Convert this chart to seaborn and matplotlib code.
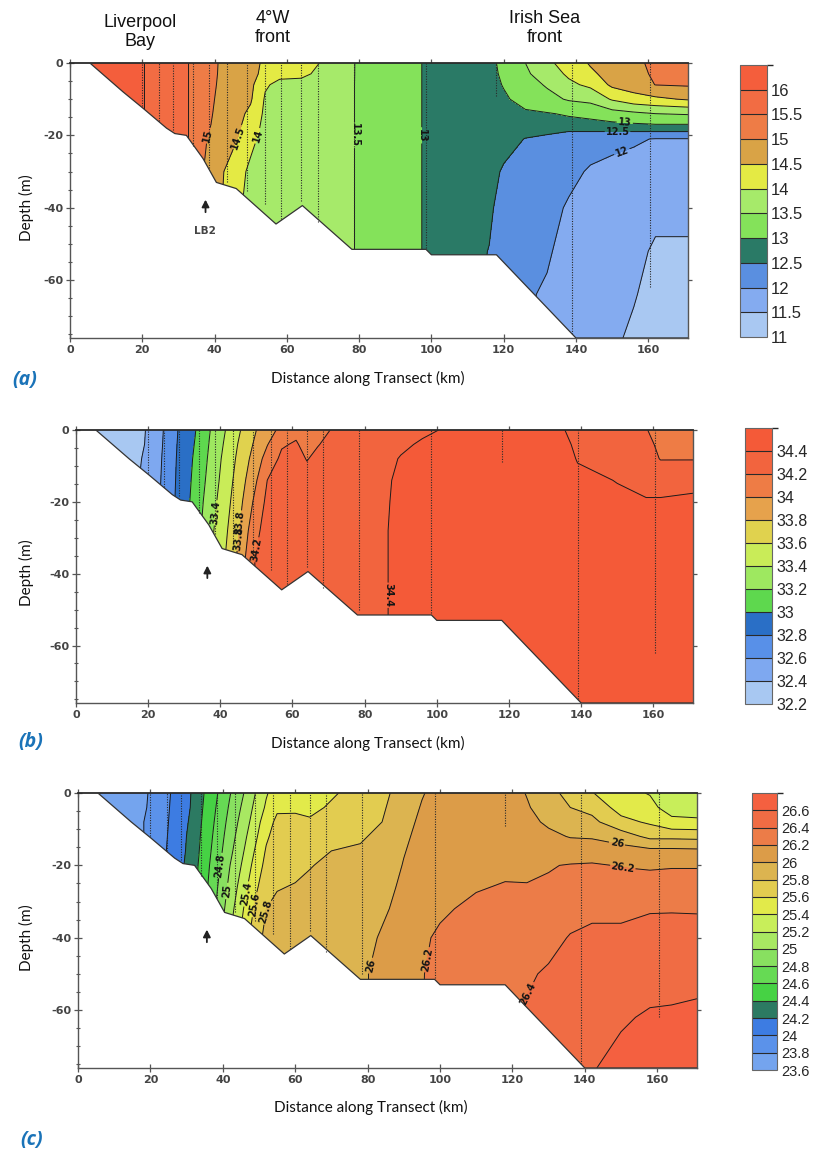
import numpy as np
import matplotlib
matplotlib.use("Agg")
import matplotlib.pyplot as plt
import seaborn as sns
from matplotlib.colors import ListedColormap, BoundaryNorm
from matplotlib.cm import ScalarMappable
from matplotlib.patches import Polygon
from matplotlib.ticker import MultipleLocator, NullLocator

# ---------------- data ----------------
# seabed profile along the transect (km, depth m)
seabed_km = [5.5, 14.7, 20.2, 26.7, 29.0, 32.2, 36.8, 40.5, 46.0, 57.0, 64.3, 78.0, 98.5, 100.0, 118.0, 140.0, 171.0]
seabed_m = [0.0, 8.0, 12.5, 18.0, 19.5, 20.0, 26.4, 33.0, 34.7, 44.5, 39.4, 51.5, 51.5, 53.0, 53.0, 76.0, 76.0]

# CTD stations (dotted casts)
station_km = [20, 24.5, 28.5, 34, 38.5, 43.5, 49, 54, 58.5, 64, 68.5, 78.5, 98.5, 118, 139, 160.5]
station_m = [12, 16, 18.5, 23, 29, 33, 35.5, 39, 43, 38, 44, 50, 51, 9, 75, 62]

# (a) temperature: profile columns at temp_km, values at temp_depth
temp_km = [0, 10, 20, 28, 34, 38, 42, 46, 50, 54, 58, 64, 70, 79, 88, 97, 99, 108, 116, 120, 126, 132, 138, 144, 150, 156, 162, 171]
temp_depth = [0, 3, 6, 10, 14, 17, 19, 21, 30, 40, 52, 64, 76]
temp_profiles = [
    [16.4, 16.4, 16.4, 16.4, 16.4, 16.4, 16.4, 16.4, 16.4, 16.4, 16.4, 16.4, 16.4],
    [16.3, 16.3, 16.3, 16.3, 16.3, 16.3, 16.3, 16.3, 16.3, 16.3, 16.3, 16.3, 16.3],
    [16.02, 16.02, 16.02, 16.02, 16.02, 16.02, 16.02, 16.02, 16.02, 16.02, 16.02, 16.02, 16.02],
    [15.7, 15.7, 15.7, 15.7, 15.7, 15.7, 15.7, 15.7, 15.7, 15.7, 15.7, 15.7, 15.7],
    [15.45, 15.45, 15.45, 15.45, 15.45, 15.45, 15.45, 15.45, 15.4, 15.4, 15.4, 15.4, 15.4],
    [15.2, 15.19, 15.17, 15.13, 15.1, 15.06, 15.03, 14.99, 14.85, 14.85, 14.85, 14.85, 14.85],
    [14.93, 14.92, 14.9, 14.87, 14.83, 14.82, 14.79, 14.75, 14.55, 14.5, 14.5, 14.5, 14.5],
    [14.8, 14.78, 14.75, 14.7, 14.65, 14.62, 14.58, 14.53, 14.2, 14.1, 14.1, 14.1, 14.1],
    [14.65, 14.63, 14.62, 14.55, 14.4, 14.3, 14.2, 14.12, 13.9, 13.85, 13.85, 13.85, 13.85],
    [14.42, 14.38, 14.05, 13.95, 13.9, 13.85, 13.85, 13.83, 13.8, 13.8, 13.8, 13.8, 13.8],
    [14.3, 14.1, 13.9, 13.85, 13.85, 13.85, 13.85, 13.85, 13.85, 13.85, 13.85, 13.85, 13.85],
    [14.25, 14.08, 13.88, 13.85, 13.85, 13.85, 13.85, 13.85, 13.85, 13.85, 13.85, 13.85, 13.85],
    [13.95, 13.9, 13.82, 13.82, 13.82, 13.82, 13.82, 13.82, 13.82, 13.82, 13.82, 13.82, 13.82],
    [13.49, 13.49, 13.49, 13.49, 13.49, 13.49, 13.49, 13.49, 13.49, 13.49, 13.49, 13.49, 13.49],
    [13.25, 13.25, 13.25, 13.25, 13.25, 13.25, 13.25, 13.25, 13.25, 13.25, 13.25, 13.25, 13.25],
    [13.02, 13.02, 13.02, 13.02, 13.02, 13.02, 13.02, 13.02, 13.02, 13.02, 13.02, 13.02, 13.02],
    [12.9, 12.9, 12.9, 12.9, 12.9, 12.9, 12.9, 12.9, 12.9, 12.9, 12.9, 12.9, 12.9],
    [12.85, 12.85, 12.85, 12.85, 12.85, 12.85, 12.85, 12.85, 12.85, 12.82, 12.8, 12.8, 12.8],
    [12.9, 12.9, 12.88, 12.85, 12.8, 12.78, 12.75, 12.72, 12.7, 12.62, 12.48, 12.4, 12.4],
    [13.1, 13.06, 13.02, 12.95, 12.85, 12.8, 12.76, 12.72, 12.43, 12.22, 12.12, 12.1, 12.1],
    [13.5, 13.42, 13.3, 13.12, 12.95, 12.85, 12.65, 12.48, 12.3, 12.18, 12.1, 12.05, 12.05],
    [13.9, 13.75, 13.55, 13.35, 12.97, 12.85, 12.6, 12.35, 12.25, 12.15, 12.05, 11.95, 11.95],
    [14.2, 14.08, 13.9, 13.55, 13.05, 12.85, 12.49, 12.3, 12.12, 11.95, 11.85, 11.8, 11.8],
    [14.55, 14.4, 14.1, 13.65, 13.1, 12.9, 12.49, 12.2, 11.95, 11.85, 11.75, 11.7, 11.7],
    [14.75, 14.7, 14.6, 14.05, 13.3, 12.9, 12.49, 12.1, 11.9, 11.8, 11.65, 11.6, 11.55],
    [14.9, 14.85, 14.75, 14.3, 13.4, 12.95, 12.49, 12.05, 11.85, 11.7, 11.6, 11.52, 11.45],
    [15.1, 15.07, 15.01, 14.4, 13.5, 12.99, 12.49, 11.98, 11.8, 11.6, 11.45, 11.4, 11.35],
    [15.3, 15.2, 15.05, 14.55, 13.55, 12.99, 12.49, 11.98, 11.8, 11.6, 11.45, 11.4, 11.35],
]
temp_levels = [11.0, 11.5, 12.0, 12.5, 13.0, 13.5, 14.0, 14.5, 15.0, 15.5, 16.0, 16.5]
temp_ticks = [11, 11.5, 12, 12.5, 13, 13.5, 14, 14.5, 15, 15.5, 16]
temp_colors = ["#a9c8f2", "#84abf0", "#5a8fe0", "#2a7a66", "#84e25a", "#a6ea6a",
               "#e4ea44", "#d9a346", "#ee7c46", "#f26c43", "#f45e3c"]

# (b) salinity
sal_km = [0, 10, 19, 24, 28, 33, 37, 41, 45, 49, 53, 57, 61, 64, 67, 71, 78, 86, 90, 96, 102, 120, 135, 139, 150, 158, 162, 171]
sal_depth = [0, 4, 8, 14, 20, 28, 36, 46, 60, 76]
sal_profiles = [
    [32.25, 32.25, 32.25, 32.25, 32.25, 32.25, 32.25, 32.25, 32.25, 32.25],
    [32.3, 32.3, 32.3, 32.3, 32.3, 32.3, 32.3, 32.3, 32.3, 32.3],
    [32.39, 32.4, 32.41, 32.42, 32.43, 32.44, 32.45, 32.45, 32.45, 32.45],
    [32.59, 32.6, 32.61, 32.62, 32.63, 32.64, 32.65, 32.65, 32.65, 32.65],
    [32.79, 32.8, 32.81, 32.82, 32.83, 32.84, 32.85, 32.85, 32.85, 32.85],
    [32.99, 33.01, 33.03, 33.05, 33.07, 33.1, 33.1, 33.1, 33.1, 33.1],
    [33.19, 33.21, 33.23, 33.26, 33.3, 33.34, 33.36, 33.36, 33.36, 33.36],
    [33.38, 33.41, 33.44, 33.47, 33.5, 33.54, 33.58, 33.58, 33.58, 33.58],
    [33.57, 33.61, 33.64, 33.68, 33.72, 33.78, 33.84, 33.84, 33.84, 33.84],
    [33.76, 33.8, 33.85, 33.92, 34.0, 34.1, 34.18, 34.18, 34.18, 34.18],
    [33.92, 33.99, 34.08, 34.2, 34.25, 34.3, 34.32, 34.32, 34.32, 34.32],
    [34.05, 34.18, 34.24, 34.28, 34.3, 34.32, 34.33, 34.33, 34.33, 34.33],
    [34.15, 34.22, 34.27, 34.3, 34.32, 34.33, 34.34, 34.34, 34.34, 34.34],
    [34.08, 34.13, 34.19, 34.28, 34.32, 34.34, 34.35, 34.35, 34.35, 34.35],
    [34.14, 34.19, 34.25, 34.3, 34.33, 34.35, 34.35, 34.35, 34.35, 34.35],
    [34.21, 34.26, 34.3, 34.32, 34.34, 34.35, 34.36, 34.36, 34.36, 34.36],
    [34.3, 34.32, 34.34, 34.35, 34.36, 34.37, 34.38, 34.38, 34.38, 34.38],
    [34.32, 34.34, 34.36, 34.37, 34.38, 34.39, 34.39, 34.39, 34.39, 34.39],
    [34.34, 34.37, 34.41, 34.45, 34.46, 34.47, 34.47, 34.47, 34.47, 34.47],
    [34.37, 34.42, 34.45, 34.47, 34.48, 34.48, 34.48, 34.48, 34.48, 34.48],
    [34.41, 34.45, 34.47, 34.48, 34.48, 34.48, 34.48, 34.48, 34.48, 34.48],
    [34.48, 34.48, 34.48, 34.48, 34.48, 34.48, 34.48, 34.48, 34.48, 34.48],
    [34.41, 34.45, 34.47, 34.48, 34.48, 34.48, 34.48, 34.48, 34.48, 34.48],
    [34.33, 34.36, 34.39, 34.44, 34.47, 34.48, 34.48, 34.48, 34.48, 34.48],
    [34.28, 34.31, 34.34, 34.395, 34.43, 34.47, 34.48, 34.48, 34.48, 34.48],
    [34.21, 34.25, 34.3, 34.36, 34.41, 34.46, 34.48, 34.48, 34.48, 34.48],
    [34.12, 34.16, 34.19, 34.36, 34.41, 34.46, 34.48, 34.48, 34.48, 34.48],
    [34.12, 34.16, 34.19, 34.37, 34.42, 34.47, 34.48, 34.48, 34.48, 34.48],
]
sal_levels = [32.2, 32.4, 32.6, 32.8, 33.0, 33.2, 33.4, 33.6, 33.8, 34.0, 34.2, 34.4, 34.6]
sal_ticks = [32.2, 32.4, 32.6, 32.8, 33.0, 33.2, 33.4, 33.6, 33.8, 34.0, 34.2, 34.4]
sal_colors = ["#a8c8f2", "#7ea8f0", "#5890e8", "#2a6fc6", "#5ed84e", "#9ee860",
              "#c9ec58", "#e0d24e", "#e6a24c", "#ee7c45", "#f2643e", "#f45a38"]

# (c) density (sigma-t)
dens_km = [0, 10, 19, 25, 31, 35, 39, 42, 46, 49, 52, 55, 60, 64, 70, 78, 84, 90, 95, 100, 110, 118, 124, 130, 136, 142, 150, 158, 164, 171]
dens_depth = [0, 4, 8, 12, 16, 20, 26, 32, 40, 50, 62, 76]
dens_profiles = [
    [23.65, 23.65, 23.65, 23.65, 23.65, 23.65, 23.65, 23.65, 23.65, 23.65, 23.65, 23.65],
    [23.7, 23.7, 23.7, 23.7, 23.7, 23.7, 23.7, 23.7, 23.7, 23.7, 23.7, 23.7],
    [23.79, 23.8, 23.81, 23.81, 23.82, 23.83, 23.84, 23.85, 23.85, 23.85, 23.85, 23.85],
    [23.98, 23.99, 24.0, 24.01, 24.02, 24.03, 24.05, 24.05, 24.05, 24.05, 24.05, 24.05],
    [24.19, 24.2, 24.22, 24.24, 24.25, 24.27, 24.29, 24.3, 24.3, 24.3, 24.3, 24.3],
    [24.41, 24.43, 24.45, 24.47, 24.49, 24.51, 24.54, 24.57, 24.6, 24.6, 24.6, 24.6],
    [24.62, 24.65, 24.68, 24.71, 24.74, 24.78, 24.83, 24.88, 24.92, 24.92, 24.92, 24.92],
    [24.79, 24.83, 24.87, 24.91, 24.95, 25.0, 25.06, 25.12, 25.2, 25.2, 25.2, 25.2],
    [25.01, 25.06, 25.11, 25.16, 25.21, 25.26, 25.34, 25.42, 25.5, 25.5, 25.5, 25.5],
    [25.2, 25.25, 25.3, 25.36, 25.42, 25.48, 25.56, 25.64, 25.72, 25.72, 25.72, 25.72],
    [25.38, 25.43, 25.52, 25.57, 25.62, 25.66, 25.72, 25.8, 25.85, 25.85, 25.85, 25.85],
    [25.5, 25.57, 25.64, 25.68, 25.71, 25.74, 25.79, 25.84, 25.86, 25.86, 25.86, 25.86],
    [25.5, 25.58, 25.63, 25.68, 25.72, 25.76, 25.81, 25.85, 25.87, 25.87, 25.87, 25.87],
    [25.52, 25.56, 25.62, 25.7, 25.75, 25.79, 25.84, 25.86, 25.88, 25.88, 25.88, 25.88],
    [25.58, 25.62, 25.68, 25.74, 25.8, 25.84, 25.87, 25.88, 25.88, 25.88, 25.88, 25.88],
    [25.66, 25.7, 25.74, 25.78, 25.82, 25.86, 25.88, 25.9, 25.93, 25.97, 25.97, 25.97],
    [25.74, 25.77, 25.8, 25.84, 25.87, 25.89, 25.93, 25.97, 26.02, 26.05, 26.05, 26.05],
    [25.9, 25.93, 25.95, 25.97, 25.99, 26.01, 26.04, 26.06, 26.08, 26.1, 26.1, 26.1],
    [25.99, 26.01, 26.03, 26.05, 26.07, 26.09, 26.12, 26.15, 26.18, 26.19, 26.19, 26.19],
    [26.05, 26.07, 26.09, 26.11, 26.13, 26.14, 26.16, 26.18, 26.22, 26.26, 26.3, 26.3],
    [26.08, 26.1, 26.12, 26.14, 26.15, 26.16, 26.19, 26.23, 26.28, 26.33, 26.36, 26.36],
    [26.1, 26.1, 26.11, 26.13, 26.15, 26.17, 26.21, 26.26, 26.31, 26.35, 26.38, 26.38],
    [25.99, 26.02, 26.05, 26.08, 26.12, 26.16, 26.21, 26.26, 26.32, 26.38, 26.42, 26.42],
    [25.85, 25.9, 25.97, 26.04, 26.1, 26.19, 26.22, 26.28, 26.35, 26.42, 26.45, 26.45],
    [25.75, 25.8, 25.9, 25.99, 26.1, 26.21, 26.28, 26.34, 26.41, 26.47, 26.52, 26.55],
    [25.61, 25.74, 25.85, 25.98, 26.1, 26.22, 26.3, 26.37, 26.43, 26.5, 26.56, 26.59],
    [25.45, 25.52, 25.66, 25.9, 26.08, 26.19, 26.3, 26.37, 26.43, 26.52, 26.58, 26.65],
    [25.39, 25.45, 25.57, 25.75, 26.05, 26.18, 26.27, 26.39, 26.45, 26.53, 26.62, 26.66],
    [25.28, 25.32, 25.45, 25.75, 26.05, 26.19, 26.26, 26.39, 26.46, 26.55, 26.62, 26.66],
    [25.26, 25.3, 25.44, 25.74, 26.04, 26.19, 26.26, 26.385, 26.47, 26.56, 26.63, 26.67],
]
dens_levels = [23.6, 23.8, 24.0, 24.2, 24.4, 24.6, 24.8, 25.0, 25.2, 25.4, 25.6, 25.8, 26.0, 26.2, 26.4, 26.6, 26.8]
dens_ticks = [23.6, 23.8, 24.0, 24.2, 24.4, 24.6, 24.8, 25.0, 25.2, 25.4, 25.6, 25.8, 26.0, 26.2, 26.4, 26.6]
dens_colors = ["#74a4ee", "#5b92ea", "#3d7ce2", "#2c7a62", "#46d244", "#66da54", "#88e060",
               "#a8e862", "#c8ee5a", "#e2ea4a", "#e2cc50", "#dcb450", "#dc9c48", "#ec7c48",
               "#f06c44", "#f46040"]

# contour-label anchor points (km, depth)
temp_label_pts = [(38, -20), (44.5, -20), (51.5, -20), (79, -20), (97, -20),
                  (153.5, -16.5), (151.5, -19.3), (152.5, -24)]
sal_label_pts = [(38, -23), (46.5, -26), (43.5, -30), (52, -33.7), (87, -46)]
dens_label_pts = [(39, -20), (40.5, -27), (47, -28), (49.5, -31), (52.5, -33),
                  (82, -48), (96, -46), (123.5, -55), (148.6, -15.5), (150.5, -20.5)]

# ---------------- figure ----------------
sns.set_theme(style="ticks")
plt.rcParams["font.family"] = ["DejaVu Sans"]
plt.rcParams["axes.unicode_minus"] = False

W, H = 825, 1153
fig = plt.figure(figsize=(W / 100, H / 100), dpi=100)


def rect(l, r, t, b):
    return [l / W, 1 - b / H, (r - l) / W, (b - t) / H]


def panel(ax, cax, xs, zs, profiles, levels, colors, cticks, label_pts, cb_fs, arrow_x):
    grid = np.array(profiles).T
    depth_neg = [-z for z in zs]
    cmap = ListedColormap(colors)
    norm = BoundaryNorm(levels, cmap.N)
    water = Polygon(np.column_stack([seabed_km + [171.0], [-d for d in seabed_m] + [0.0]]),
                    closed=True, facecolor="none", edgecolor="none", transform=ax.transData)
    ax.add_patch(water)
    cf = ax.contourf(xs, depth_neg, grid, levels=levels, cmap=cmap, norm=norm, zorder=1)
    cf.set_clip_path(water)
    cl = ax.contour(xs, depth_neg, grid, levels=levels, colors="#1c1c1c", linewidths=0.7, zorder=2)
    cl.set_clip_path(water)
    txts = ax.clabel(cl, manual=label_pts, fmt="%g", fontsize=7, inline=True, inline_spacing=2)
    for t in txts:
        t.set_fontweight("bold")
        t.set_color("#151515")
    ax.vlines(station_km, [-d for d in station_m], 0, colors="#2a2a2a",
              linestyles=(0, (1, 1.3)), linewidth=0.8, zorder=3)
    sns.lineplot(x=seabed_km, y=[-d for d in seabed_m], ax=ax, color="#333333",
                 linewidth=0.9, sort=False, estimator=None, legend=False, zorder=4)
    ax.annotate("", xy=(arrow_x, -37.0), xytext=(arrow_x, -42.0),
                arrowprops=dict(arrowstyle="-|>,head_length=0.35,head_width=0.18",
                                color="#222222", lw=1.3))
    ax.set_xlim(0, 171)
    ax.set_ylim(-76, 0)
    ax.set_xlabel("")
    ax.set_ylabel("")
    ax.set_xticks([0, 20, 40, 60, 80, 100, 120, 140, 160])
    ax.set_yticks([0, -20, -40, -60])
    ax.yaxis.set_minor_locator(MultipleLocator(5))
    ax.xaxis.set_minor_locator(NullLocator())
    ax.tick_params(axis="both", which="major", direction="inout", length=6, width=0.9,
                   color="#555555", labelsize=8, labelcolor="#444444", pad=2)
    ax.tick_params(axis="x", top=True)
    ax.tick_params(axis="y", right=True)
    ax.tick_params(axis="y", which="minor", direction="inout", length=3, width=0.8,
                   color="#555555", left=True, right=False)
    for lbl in ax.get_xticklabels() + ax.get_yticklabels():
        lbl.set_fontweight("bold")
    for sp in ax.spines.values():
        sp.set_color("#555555")
        sp.set_linewidth(1.0)
    ax.spines["top"].set_color("#2a2a2a")
    ax.spines["top"].set_linewidth(1.3)
    ax.set_facecolor("white")

    cb = fig.colorbar(ScalarMappable(norm=norm, cmap=cmap), cax=cax, boundaries=levels,
                      ticks=cticks, drawedges=True)
    cb.outline.set_edgecolor("#666666")
    cb.outline.set_linewidth(0.8)
    cb.dividers.set_color("#2a2a2a")
    cb.dividers.set_linewidth(0.8)
    cax.tick_params(length=0, labelsize=cb_fs, pad=3)
    cax.set_yticklabels([f"{t:g}" for t in cticks], family="Liberation Sans")


ax_a = fig.add_axes(rect(70, 688, 63, 338))
ax_b = fig.add_axes(rect(76, 693, 430, 703))
ax_c = fig.add_axes(rect(78, 697, 793, 1068))
cax_a = fig.add_axes(rect(740, 767, 65, 337))
cax_b = fig.add_axes(rect(745, 772, 428, 704))
cax_c = fig.add_axes(rect(752, 777, 793, 1070))

panel(ax_a, cax_a, temp_km, temp_depth, temp_profiles, temp_levels, temp_colors, temp_ticks,
      temp_label_pts, 12, 37.5)
panel(ax_b, cax_b, sal_km, sal_depth, sal_profiles, sal_levels, sal_colors, sal_ticks,
      sal_label_pts, 11.5, 36.4)
panel(ax_c, cax_c, dens_km, dens_depth, dens_profiles, dens_levels, dens_colors, dens_ticks,
      dens_label_pts, 10.5, 35.6)

ax_a.text(37.2, -46.5, "LB2", ha="center", va="center", fontsize=7.5, color="#444444",
          fontweight="bold")

# top annotations
for xpx, ypx, s in [(140, 32, "Liverpool\nBay"), (273, 28, "4°W\nfront"), (545, 28, "Irish Sea\nfront")]:
    fig.text(xpx / W, 1 - ypx / H, s, ha="center", va="center", fontsize=13,
             family="Liberation Sans", linespacing=1.1, color="#111111")

# axis titles and panel letters
for xpx, ypx in [(368, 378), (368, 743), (371, 1107)]:
    fig.text(xpx / W, 1 - ypx / H, "Distance along Transect (km)", ha="center", va="center",
             fontsize=11, family="Lato", color="#111111")
for ypx in [208, 573, 938]:
    fig.text(26 / W, 1 - ypx / H, "Depth (m)", ha="center", va="center", rotation=90,
             fontsize=11, family="Lato", color="#111111")
for xpx, ypx, s in [(25, 380, "(a)"), (31, 742, "(b)"), (32, 1140, "(c)")]:
    fig.text(xpx / W, 1 - ypx / H, s, ha="center", va="center", fontsize=14,
             fontweight="bold", style="italic", family="Open Sans", color="#1a73b8")

fig.savefig("out.png", dpi=100, facecolor="white")
